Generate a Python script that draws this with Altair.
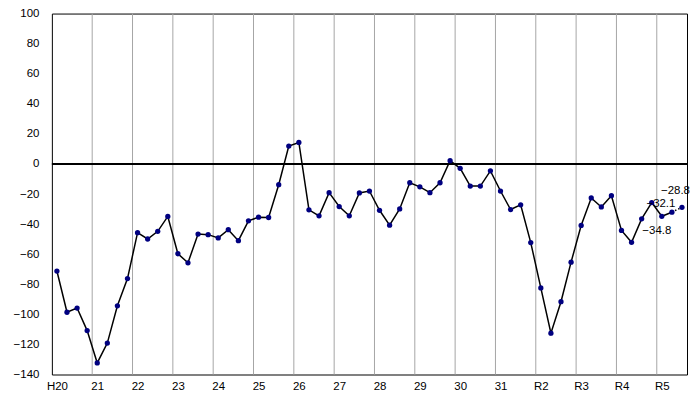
import altair as alt
import pandas as pd

year_labels = ["H20", "21", "22", "23", "24", "25", "26", "27", "28", "29",
               "30", "31", "R2", "R3", "R4", "R5"]

values = [-71.2, -98.6, -95.8, -110.8,
          -132.3, -119.1, -94.3, -76.2,
          -45.7, -49.9, -44.8, -34.9,
          -59.7, -65.7, -46.6, -47.0,
          -49.2, -43.7, -51.0, -37.8,
          -35.4, -35.6, -13.8, 11.9,
          14.3, -30.5, -34.5, -19.1,
          -28.3, -34.5, -19.3, -18.0,
          -30.8, -40.7, -29.9, -12.5,
          -15.2, -19.1, -12.5, 2.2,
          -2.9, -14.7, -14.7, -4.6,
          -18.0, -30.3, -27.2, -52.3,
          -82.4, -112.5, -91.6, -65.3,
          -40.9, -22.6, -28.6, -21.1,
          -44.2, -52.1, -36.5, -25.7,
          -34.8, -32.1, -28.8]

end_labels = ["−34.8", "−32.1", "−28.8"]

n = len(values)
slots = len(year_labels) * 4 - 1
df = pd.DataFrame({"i": [k + 0.5 for k in range(n)], "v": values})
solid_df = df.iloc[: n - 1]
dash_df = df.iloc[n - 2:]
grid_df = pd.DataFrame({"g": list(range(4, slots, 4))})
zero_df = pd.DataFrame({"z": [0]})

label_arr = "[" + ",".join("'" + s + "'" for s in year_labels) + "]"

xscale = alt.Scale(domain=[0, slots], nice=False, zero=False)
yscale = alt.Scale(domain=[-140, 100], nice=False, zero=False)

FONT = "Liberation Sans"

x_axis = alt.Axis(values=[4 * k + 0.5 for k in range(len(year_labels))],
                  labelExpr=label_arr + "[floor(datum.value / 4)]",
                  ticks=False, grid=False, domain=False, title=None,
                  labelFontSize=11.5, labelColor="black", labelFont=FONT,
                  labelPadding=6)
y_axis = alt.Axis(values=list(range(-140, 101, 20)), ticks=False, grid=False,
                  domain=False, title=None, labelFontSize=11.5, labelColor="black",
                  labelFont=FONT, labelPadding=13)

X = alt.X("i:Q", scale=xscale, axis=x_axis)
Y = alt.Y("v:Q", scale=yscale, axis=y_axis)

grid = alt.Chart(grid_df).mark_rule(color="#a6a6a6", strokeWidth=1).encode(
    x=alt.X("g:Q", scale=xscale, axis=x_axis)
)

zero = alt.Chart(zero_df).mark_rule(color="black", strokeWidth=2).encode(
    y=alt.Y("z:Q", scale=yscale, axis=y_axis)
)

line = alt.Chart(solid_df).mark_line(color="black", strokeWidth=1.5).encode(x=X, y=Y)
dline = alt.Chart(dash_df).mark_line(color="black", strokeWidth=1.5,
                                     strokeDash=[1.5, 2]).encode(x=X, y=Y)
pts = alt.Chart(df).mark_circle(color="#000080", size=28, opacity=1).encode(x=X, y=Y)

text_specs = [("center", -5, 15), ("center", -11, -8), ("right", 8, -16)]
texts = []
for k, (lab, (al, dx, dy)) in enumerate(zip(end_labels, text_specs)):
    idx = n - 3 + k
    tdf = pd.DataFrame({"i": [idx + 0.5], "v": [values[idx]], "t": [lab]})
    texts.append(
        alt.Chart(tdf).mark_text(fontSize=11.5, font=FONT, color="black",
                                 dx=dx, dy=dy, align=al, baseline="middle")
        .encode(x=X, y=Y, text="t:N")
    )

chart = alt.layer(grid, zero, line, dline, pts, *texts).properties(
    width=637, height=362,
    autosize="none",
    padding={"left": 44, "top": 5, "right": 5, "bottom": 28},
).configure_view(stroke="black", strokeWidth=1)

chart.save("out.html", embed_options={"renderer": "svg", "actions": False})
